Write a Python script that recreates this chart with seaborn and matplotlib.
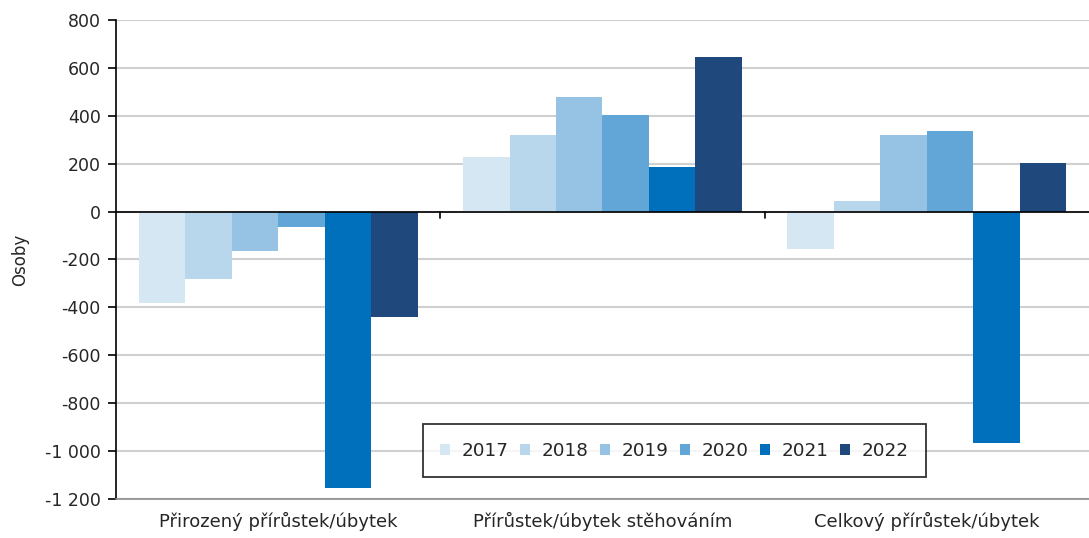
import matplotlib
matplotlib.use("Agg")
import matplotlib.pyplot as plt
import matplotlib.ticker as mticker
import seaborn as sns
import pandas as pd

# data
categories = ["Přirozený přírůstek/úbytek", "Přírůstek/úbytek stěhováním", "Celkový přírůstek/úbytek"]
years = ["2017", "2018", "2019", "2020", "2021", "2022"]
natural = [-383, -281, -165, -66, -1153, -440]
migration = [227, 319, 477, 402, 185, 647]
total = [-156, 44, 320, 336, -968, 202]
colors = ["#d6e7f4", "#b9d7ec", "#96c2e3", "#61a6d7", "#0070bc", "#1f497d"]

rows = []
for cat, vals in zip(categories, [natural, migration, total]):
    for yr, v in zip(years, vals):
        rows.append({"kategorie": cat, "rok": yr, "osoby": v})
df = pd.DataFrame(rows)

sns.set_style("white")
plt.rcParams["font.family"] = ["DejaVu Sans"]

fig = plt.figure(figsize=(10.89, 5.38), dpi=100)
ax = fig.add_axes([0.1065, 0.0725, 0.8935, 0.8905])

sns.barplot(data=df, x="kategorie", y="osoby", hue="rok", palette=colors,
            width=0.86, gap=0, saturation=1, linewidth=0, ax=ax, legend=True)

ax.set_ylim(-1200, 800)
ax.set_xlim(-0.5, 2.5)
ax.yaxis.set_major_locator(mticker.MultipleLocator(200))
ax.yaxis.set_major_formatter(mticker.FuncFormatter(lambda v, p: f"{int(v):,}".replace(",", " ")))
ax.yaxis.grid(True, color="#d0d0d0", linewidth=1.5)
ax.set_axisbelow(True)
ax.axhline(0, color="black", linewidth=1.2)

# small category separators on the zero line
for b in [0.5, 1.5]:
    ax.plot([b, b], [0, -25], color="black", linewidth=1.2)

for s in ["top", "right"]:
    ax.spines[s].set_visible(False)
ax.spines["left"].set_color("black")
ax.spines["left"].set_linewidth(1.2)
ax.spines["bottom"].set_color("#8c8c8c")
ax.spines["bottom"].set_linewidth(1.2)

ax.tick_params(axis="y", direction="out", length=6, width=1.2, color="black",
               labelsize=12.5, pad=5, left=True)
ax.tick_params(axis="x", length=0, labelsize=13, pad=9)
ax.set_xlabel("")
ax.set_ylabel("Osoby", fontsize=12, labelpad=11)

handles, labels = ax.get_legend_handles_labels()
ax.legend(handles, labels, ncol=6, loc="lower left", bbox_to_anchor=(0.3884, 0.1134),
          bbox_transform=fig.transFigure, frameon=True, fancybox=False, borderaxespad=0,
          edgecolor="black", fontsize=13.2, handlelength=0.55, handleheight=0.55,
          handletextpad=0.6, columnspacing=0.65, borderpad=0.95)
ax.get_legend().get_frame().set_linewidth(1.3)

fig.savefig("out.png", dpi=100)
